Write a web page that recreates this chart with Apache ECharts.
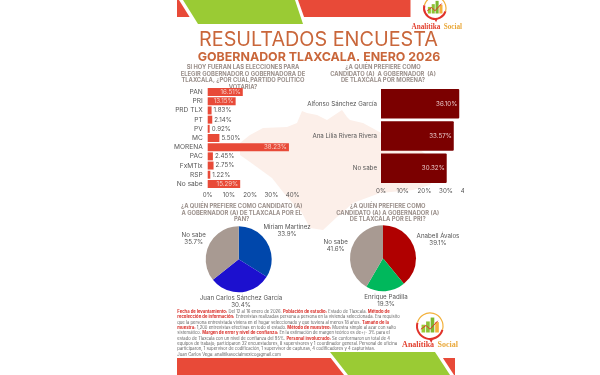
<!DOCTYPE html>
<html>
<head>
<meta charset="utf-8">
<style>html,body{margin:0;padding:0;background:#fff}#chart{width:600px;height:375px}</style>
<script src="https://cdn.jsdelivr.net/npm/echarts@6/dist/echarts.min.js"></script>
</head>
<body>
<div id="chart"></div>
<script>
// intencion de voto por partido
var partidos = ['PAN', 'PRI', 'PRD TLX', 'PT', 'PV', 'MC', 'MORENA', 'PAC', 'FxMTlx', 'RSP', 'No sabe'];
var partidosVal = [16.51, 13.15, 1.83, 2.14, 0.92, 5.50, 38.23, 2.45, 2.75, 1.22, 15.29];
var morenaNombres = ['Alfonso Sánchez García', 'Ana Lilia Rivera Rivera', 'No sabe'];
var morenaVal = [36.10, 33.57, 30.32];
var panNombres = ['Miriam Martínez', 'Juan Carlos Sánchez García', 'No sabe'];
var panVal = [33.9, 30.4, 35.7];
var priNombres = ['Anabell Ávalos', 'Enrique Padilla', 'No sabe'];
var priVal = [39.1, 19.3, 41.6];

var fuente = 'Inter, "Open Sans", sans-serif';
var gris = '#555555';
var tituloGris = '#9a8f8a';
var naranja = '#c9663a';
var chico = 6.2;

function titulo(x, y, txt) {
    return {type: 'text', x: x, y: y, style: {
        text: txt, fill: tituloGris, font: 'bold 5.8px ' + fuente, align: 'center', verticalAlign: 'top', lineHeight: 6.4
    }};
}

function logo(cx, cy, r, fs, ty, tx) {
    return [
        {type: 'arc', shape: {cx: cx, cy: cy, r: r, startAngle: 0.3, endAngle: 3.4}, style: {stroke: '#e0322a', fill: 'none', lineWidth: 2}},
        {type: 'arc', shape: {cx: cx, cy: cy, r: r, startAngle: 3.4, endAngle: 6.58}, style: {stroke: '#f3b13b', fill: 'none', lineWidth: 1.2}},
        {type: 'polygon', shape: {points: [[cx - r * 0.1, cy + r * 0.95], [cx + r * 0.25, cy + r * 0.95], [cx + r * 0.1, cy + r * 1.3]]}, style: {fill: '#e0322a'}},
        {type: 'rect', shape: {x: cx - r * 0.65, y: cy - r * 0.1, width: r * 0.28, height: r * 0.6}, style: {fill: '#9acb34'}},
        {type: 'rect', shape: {x: cx - r * 0.3, y: cy - r * 0.35, width: r * 0.28, height: r * 0.85}, style: {fill: '#8cc236'}},
        {type: 'rect', shape: {x: cx + r * 0.05, y: cy - r * 0.65, width: r * 0.28, height: r * 1.15}, style: {fill: '#7cb82f'}},
        {type: 'rect', shape: {x: cx + r * 0.4, y: cy - r * 0.3, width: r * 0.28, height: r * 0.8}, style: {fill: '#f3b13b'}},
        {type: 'polyline', shape: {points: [[cx - r * 0.7, cy + r * 0.25], [cx - r * 0.3, cy - r * 0.05], [cx, cy + r * 0.25], [cx + r * 0.6, cy - r * 0.4]]}, style: {stroke: '#e0322a', fill: 'none', lineWidth: 1}},
        {type: 'text', x: tx, y: ty, style: {
            text: '{a|Analítika} {b|Social}', align: 'center', verticalAlign: 'middle',
            rich: {
                a: {fill: '#e2402f', font: 'bold ' + fs + 'px "Liberation Serif", serif'},
                b: {fill: '#e9a83a', font: 'bold ' + fs + 'px "Liberation Serif", serif'}
            }
        }}
    ];
}

// renglones de la nota metodologica, con sus tramos en rojo
var notaLineas = [
    [['Fecha de levantamiento:', 1], [' Del 12 al 16 enero de 2026. ', 0], ['Población de estudio:', 1], [' Estado de Tlaxcala. ', 0], ['Método de', 1]],
    [['recolección de información:', 1], [' Entrevistas realizadas persona a persona en la vivienda seleccionada. Era requisito', 0]],
    [['que la persona entrevistada viviera en el hogar seleccionado y que tuviera al menos 18 años. ', 0], ['Tamaño de la', 1]],
    [['muestra:', 1], [' 1,200 entrevistas efectivas en todo el estado. ', 0], ['Método de muestreo:', 1], [' Muestra simple al azar con salto', 0]],
    [['sistemático. ', 0], ['Margen de error y nivel de confianza:', 1], [' En la estimación de margen teórico es de+/- 3% para el', 0]],
    [['estado de Tlaxcala con un nivel de confianza del 95%. ', 0], ['Personal involucrado:', 1], [' Se conformaron un total de 4', 0]],
    [['equipos de trabajo; participaron 32 encuestadores, 8 supervisores y 1 coordinador general. Personal de oficina', 0]],
    [['participaron, 1 supervisor de codificación, 1 supervisor de capturas, 4 codificadores y 4 capturistas.', 0]],
    [['Juan Carlos Vega: analitikasocialmexico@gmail.com', 0]]
];

function notaTexto() {
    var s = [];
    for (var i = 0; i < notaLineas.length; i++) {
        s.push(notaLineas[i].map(function (t) {
            return '{' + (t[1] ? 'r' : 'n') + '|' + t[0] + '}';
        }).join(''));
    }
    return s.join('\n');
}

var decoracion = [
    // banda superior
    {type: 'rect', shape: {x: 177, y: 0, width: 233.5, height: 17}, style: {fill: '#e84a38'}},
    {type: 'polygon', shape: {points: [[179, 0], [298, 0], [306.5, 24], [194, 24]]}, style: {fill: '#fff'}},
    {type: 'polygon', shape: {points: [[183, 0], [295, 0], [303, 24], [198, 24]]}, style: {fill: '#9acb34'}},
    // silueta del estado
    {type: 'polygon', shape: {points: [[240, 143], [250, 135], [263, 128], [287, 127], [297, 123], [302, 111], [307, 113], [317, 115], [327, 120], [342, 110], [347, 117], [350, 120], [363, 123], [385, 135], [420, 150], [440, 165], [430, 185], [413, 190], [380, 193], [353, 203], [337, 217], [323, 230], [310, 228], [302, 213], [287, 197], [272, 178], [250, 162], [240, 155]]}, style: {fill: '#fcefe9'}},
    // banda inferior
    {type: 'rect', shape: {x: 177, y: 358, width: 278, height: 17}, style: {fill: '#e84a38'}},
    {type: 'polygon', shape: {points: [[326, 352], [439, 352], [454, 375], [344, 375]]}, style: {fill: '#fff'}},
    {type: 'polygon', shape: {points: [[330, 352], [435, 352], [450, 375], [348, 375]]}, style: {fill: '#9acb34'}},
    {type: 'text', x: 318.5, y: 40, style: {
        text: 'RESULTADOS ENCUESTA', fill: naranja, font: '400 19.8px ' + fuente, align: 'center', verticalAlign: 'middle'
    }},
    {type: 'text', x: 319, y: 57.5, style: {
        text: 'GOBERNADOR TLAXCALA. ENERO 2026', fill: naranja, font: 'bold 12.4px ' + fuente, align: 'center', verticalAlign: 'middle'
    }},
    titulo(243, 64.5, 'SI HOY FUERAN LAS ELECCIONES PARA\nELEGIR GOBERNADOR O GOBERNADORA DE\nTLAXCALA, ¿POR CUÁL PARTIDO POLÍTICO\nVOTARÍA?'),
    titulo(383, 64.5, '¿A QUIÉN PREFIERE COMO\nCANDIDATO (A)  A GOBERNADOR  (A)\nDE TLAXCALA POR MORENA?'),
    titulo(241.7, 203.5, '¿A QUIÉN PREFIERE COMO CANDIDATO (A)\nA GOBERNADOR (A) DE TLAXCALA POR EL\nPAN?'),
    titulo(387.7, 203.5, '¿A QUIÉN PREFIERE COMO\nCANDIDATO (A) A GOBERNADOR (A)\nDE TLAXCALA POR EL PRI?'),
    {type: 'text', x: 177.3, y: 309, style: {
        text: notaTexto(), verticalAlign: 'top',
        rich: {
            n: {fill: '#666', font: '4.2px ' + fuente, lineHeight: 5.33},
            r: {fill: '#d9302a', font: 'bold 4.2px ' + fuente, lineHeight: 5.33}
        }
    }},
    // el 40% del eje de morena sale recortado en el original
    {type: 'rect', z: 100, shape: {x: 464, y: 188, width: 20, height: 10}, style: {fill: '#fff'}}
].concat(logo(435, 8, 11, 7.2, 27, 436.8), logo(430, 326, 13, 8, 345, 430));

function pct2(p) {
    return p.value.toFixed(2) + '%';
}

// posicion de las etiquetas de pastel, centro de cada bloque
var etiquetasPan = [[287, 230.5], [241, 302], [193.7, 238.3]];
var etiquetasPri = [[438, 239.5], [386, 301], [335.7, 245.7]];

function pie(cx, cy, nombres, valores, colores, etiquetas) {
    return {
        type: 'pie',
        radius: 33,
        center: [cx, cy],
        startAngle: 90,
        clockwise: true,
        silent: true,
        label: {
            color: gris, fontSize: chico, fontFamily: fuente, lineHeight: 7,
            formatter: function (p) { return p.name + '\n' + p.value.toFixed(1) + '%'; }
        },
        labelLine: {show: false},
        labelLayout: function (p) {
            var e = etiquetas[p.dataIndex];
            return {x: e[0], y: e[1], align: 'center', verticalAlign: 'middle'};
        },
        data: nombres.map(function (n, i) {
            return {name: n, value: valores[i], itemStyle: {color: colores[i]}};
        })
    };
}

function ejeX(i) {
    return {
        gridIndex: i, type: 'value', min: 0, max: 40, interval: 10,
        axisLine: {show: false}, axisTick: {show: false}, splitLine: {show: false},
        axisLabel: {color: gris, fontSize: chico, fontFamily: fuente, margin: 4, formatter: '{value}%'}
    };
}

function ejeY(i, datos, margen, tam) {
    return {
        gridIndex: i, type: 'category', inverse: true, data: datos,
        axisLine: {show: false}, axisTick: {show: false},
        axisLabel: {color: gris, fontSize: tam, fontFamily: fuente, margin: margen, interval: 0}
    };
}

var chart = echarts.init(document.getElementById('chart'));
var option = {
    animation: false,
    backgroundColor: '#ffffff',
    textStyle: {fontFamily: fuente},
    graphic: decoracion,
    grid: [
        {left: 207.7, top: 87.5, width: 85, height: 101},
        {left: 381, top: 87.5, width: 86.7, height: 97}
    ],
    xAxis: [ejeX(0), ejeX(1)],
    yAxis: [ejeY(0, partidos, 5, 6.6), ejeY(1, morenaNombres, 4, chico)],
    series: [
        {
            type: 'bar', xAxisIndex: 0, yAxisIndex: 0, barWidth: 8, silent: true,
            itemStyle: {color: '#e84a38'},
            label: {show: true, fontSize: chico, fontFamily: fuente, color: gris, position: 'right', distance: 2, formatter: pct2},
            // las barras largas llevan la etiqueta dentro
            data: partidosVal.map(function (v) {
                return v > 10 ? {value: v, label: {position: 'insideRight', distance: 2, color: '#f8cfc6'}} : v;
            })
        },
        {
            type: 'bar', xAxisIndex: 1, yAxisIndex: 1, barWidth: 29.5, silent: true,
            itemStyle: {color: '#7b0000', borderRadius: [0, 1, 1, 0]},
            data: morenaVal,
            label: {show: true, position: 'insideRight', distance: 2, fontSize: chico, fontFamily: fuente, color: '#e8c8c8', formatter: pct2}
        },
        pie(238.7, 259.3, panNombres, panVal, ['#0047ab', '#1c10cf', '#a89a92'], etiquetasPan),
        pie(383, 258.3, priNombres, priVal, ['#b00000', '#00b85c', '#a89a92'], etiquetasPri)
    ]
};
chart.setOption(option);
</script>
</body>
</html>
